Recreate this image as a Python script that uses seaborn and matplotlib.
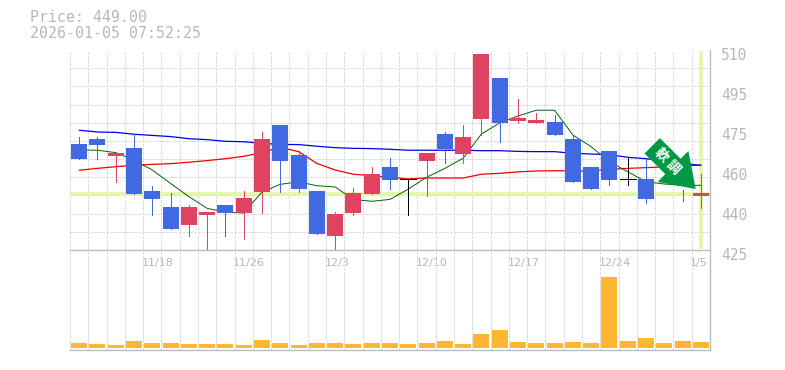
#!/usr/bin/env python3
# coding=utf-8
import numpy as np
import matplotlib
matplotlib.use('Agg')
import matplotlib.pyplot as plt
from matplotlib.patches import FancyArrow
from matplotlib.transforms import Affine2D, ScaledTranslation
import seaborn as sns

W, H = 785, 370

# candles, oldest first
highs = [473.0, 473.0, 466.2, 474.3, 452.2, 449.2, 444.1, 441.15, 444.1, 450.05, 475.15, 478.1, 467.05, 450.05, 441.15, 451.35, 460.3, 464.1,
         455.05, 466.2, 475.15, 478.1, 508.3, 498.1, 489.2, 483.2, 482.4, 473.9, 460.3, 467.05, 464.5, 463.7, 459.0, 450.6, 457.1]
tops = [470.05, 472.2, 466.2, 468.35, 450.05, 443.3, 443.3, 441.15, 444.1, 447.1, 472.2, 478.1, 465.4, 450.05, 440.3, 449.2, 457.3, 460.3,
        455.05, 466.2, 474.3, 473.0, 508.3, 498.1, 481.1, 480.25, 479.4, 472.2, 460.3, 467.05, 455.05, 455.2, 459.0, 450.6, 449.2]
bottoms = [463.7, 469.6, 464.95, 448.8, 446.7, 433.9, 435.6, 439.9, 440.7, 440.7, 449.65, 462.8, 450.9, 431.8, 430.95, 440.7, 448.8, 454.75,
           455.05, 462.8, 467.9, 465.8, 480.7, 479.0, 479.8, 479.0, 473.9, 453.9, 450.9, 454.75, 455.05, 446.7, 459.0, 450.6, 447.95]
lows = [463.7, 463.7, 453.9, 448.8, 439.9, 433.9, 430.95, 425.0, 430.95, 429.7, 440.7, 449.65, 449.65, 431.8, 425.0, 439.9, 448.8, 450.9,
        439.9, 447.95, 462.0, 462.0, 473.9, 470.9, 479.0, 479.0, 473.9, 453.9, 450.9, 452.6, 452.6, 445.0, 459.0, 445.85, 442.8]
# u up, d down, n unchanged
dirs = ['d', 'd', 'u', 'd', 'd', 'd', 'u', 'u', 'd', 'u', 'u', 'd', 'd', 'd', 'u', 'u', 'u', 'd',
        'n', 'u', 'd', 'u', 'u', 'd', 'u', 'u', 'd', 'd', 'd', 'd', 'n', 'd', 'd', 'd', 'u']

ma_short = [467.5, 467.4, 466.4, 463.25, 459.0, 453.3, 447.7, 442.7, 441.15, 440.7, 449.65, 452.9, 454.0, 452.3, 451.8, 446.5, 445.7, 446.5,
            450.9, 455.9, 459.7, 464.0, 474.3, 479.0, 481.95, 484.4, 484.4, 473.9, 468.9, 462.5, 458.3, 454.0, 453.05, 452.5, 452.5]
ma_mid = [458.9, 459.7, 460.4, 461.0, 461.4, 461.7, 462.3, 463.0, 463.8, 464.8, 466.4, 468.6, 466.8, 461.8, 459.0, 457.2, 456.6, 455.9,
          455.2, 455.6, 455.6, 455.6, 457.2, 457.6, 458.2, 458.6, 458.7, 458.6, 458.6, 459.3, 459.7, 460.0, 460.3, 460.7, 461.1]
ma_long = [475.9, 475.15, 475.0, 474.2, 473.7, 473.2, 472.3, 471.9, 471.2, 471.0, 470.3, 469.9, 469.8, 469.1, 468.5, 468.2, 468.1, 467.8,
           467.4, 467.4, 467.4, 467.4, 467.2, 467.2, 466.9, 466.8, 466.8, 466.1, 465.8, 465.5, 464.4, 463.8, 463.0, 461.8, 461.0]

volumes = [15, 12, 9, 21, 15, 15, 12, 12, 12, 9, 24, 15, 9, 15, 15, 12, 15, 15,
           12, 15, 21, 12, 42, 54, 18, 15, 15, 18, 15, 213, 21, 30, 15, 21, 18]

date_slots = [4, 9, 14, 19, 24, 29, 34]
date_labels = ['11/18', '11/26', '12/3', '12/10', '12/17', '12/24', '1/5']
price_ticks = [510, 493, 476, 459, 442, 425]
price_labels = ['510', '495', '475', '460', '440', '425']
last_price = 449.0
header = ['Price: 449.00', '2026-01-05 07:52:25']
badge = ['軟', '調']

RED = '#e04262'
BLUE = '#4169e1'
ORANGE = '#ffb732'
LIME = '#e4f5a5'
GRID = '#dcdcdc'
AXIS = '#bdbdbd'
TEXT = '#b8b8b8'
dir_color = {'u': RED, 'd': BLUE, 'n': 'black'}

sns.set_theme(style='white')
plt.rcParams['font.family'] = ['DejaVu Sans', 'Noto Sans CJK JP']

slots = np.arange(len(highs))
colors = [dir_color[d] for d in dirs]
bar_w = 16 / (640 / 35)

fig = plt.figure(figsize=(W / 100, H / 100), dpi=100, facecolor='white')
ax = fig.add_axes([70 / W, (H - 250) / H, 640 / W, 200 / H])
axv = fig.add_axes([70 / W, (H - 350) / H, 640 / W, 100 / H])
px = Affine2D().scale(1, -1).translate(0, H)


def dress(a):
    a.set_facecolor('none')
    a.set_xticks(np.arange(36) - 0.5, minor=True)
    a.set_xlim(-0.5, 34.5)
    a.grid(False)
    a.grid(which='minor', axis='both', color=GRID, lw=0.6, ls=(0, (3.4, 2.1)), antialiased=False)
    a.set_axisbelow(True)
    a.tick_params(which='both', length=0)
    a.set_xlabel('')
    a.set_ylabel('')
    sns.despine(ax=a, left=True, top=True, right=False, bottom=False)
    for s in ('right', 'bottom'):
        a.spines[s].set_color(AXIS)
        a.spines[s].set_linewidth(1.0)


# price panel
sns.lineplot(x=slots, y=ma_mid, ax=ax, color='#f00000', lw=0.9, errorbar=None, zorder=2)
sns.lineplot(x=slots, y=ma_long, ax=ax, color='#0000e6', lw=0.9, errorbar=None, zorder=2)
sns.lineplot(x=slots, y=ma_short, ax=ax, color='#006400', lw=0.7, errorbar=None, zorder=2)
ax.vlines(slots, lows, highs, colors=colors, lw=0.65, zorder=3, antialiased=False)
sns.barplot(x=slots, y=np.array(tops) - np.array(bottoms), bottom=bottoms, ax=ax,
            width=bar_w, color=BLUE, saturation=1, linewidth=0, zorder=4)
for p, c in zip(ax.patches, colors):
    p.set_facecolor(c)
    p.set_antialiased(False)
for i in slots[np.array(dirs) == 'n']:
    ax.hlines(tops[i], i - bar_w / 2, i + bar_w / 2, colors='black', lw=0.65, zorder=4, antialiased=False)
ax.axhline(last_price, color=LIME, lw=2.6, zorder=1.5)
ax.vlines(slots[-1], 425.5, 509.5, colors=LIME, lw=2.6, zorder=1.5)

dress(ax)
ax.set_ylim(425, 510)
ax.set_yticks(np.linspace(425, 510, 12), minor=True)
ax.yaxis.tick_right()
ax.set_yticks(price_ticks, price_labels, family='DejaVu Sans Mono', fontsize=10.5, color=TEXT)
ax.tick_params(axis='y', which='major', pad=8)
ax.set_xticks(np.array(date_slots) - 0.58, date_labels, ha='left', fontsize=8, color=TEXT)
ax.tick_params(axis='x', which='major', pad=6)
for lab in ax.get_yticklabels():
    lab.set_transform(lab.get_transform() + ScaledTranslation(0, -3 / 72, fig.dpi_scale_trans))

# volume panel
sns.barplot(x=slots, y=volumes, ax=axv, width=bar_w, color=ORANGE, saturation=1, linewidth=0, zorder=3)
for p in axv.patches:
    p.set_antialiased(False)
dress(axv)
axv.set_ylim(-6, 294)
axv.set_xticks([])
axv.set_yticks([])

# header
for txt, y in zip(header, (18, 33)):
    fig.text(30, y, txt, transform=px, family='DejaVu Sans Mono', fontsize=10.7, color=TEXT, va='center', ha='left')

# trend badge
fig.add_artist(FancyArrow(652.2, 145.8, 43.5, 43.2, width=21.7, head_width=43.6, head_length=32,
                          length_includes_head=True, color='#009944', lw=0, transform=px, zorder=6))
for ch, (x, y) in zip(badge, ((661, 155), (673, 167))):
    fig.text(x, y, ch, transform=px, family=['Noto Sans CJK JP', 'DejaVu Sans'], fontsize=10, fontweight='bold',
             color='white', rotation=-45, rotation_mode='anchor', ha='center', va='center', zorder=7)

fig.savefig('out.png', dpi=100)
